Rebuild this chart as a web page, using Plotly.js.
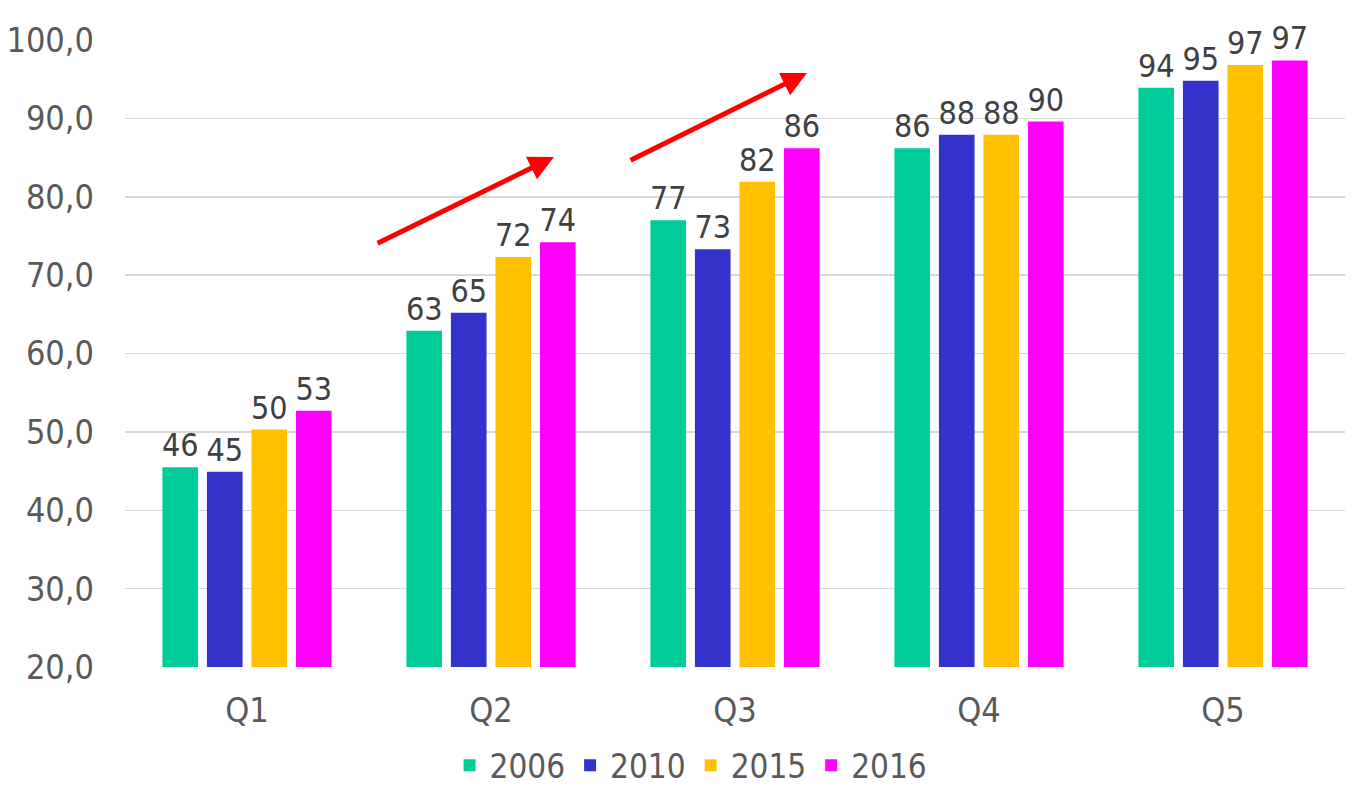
<!DOCTYPE html>
<html>
<head>
<meta charset="utf-8">
<script src="https://cdn.plot.ly/plotly-3.0.1.min.js"></script>
<style>
  html, body { margin: 0; padding: 0; background: #fff; }
  #chart { width: 1355px; height: 789px; }
</style>
</head>
<body>
<div id="chart"></div>
<script>
const quintiles = ['Q1', 'Q2', 'Q3', 'Q4', 'Q5'];
const years = ['2006', '2010', '2015', '2016'];
const v2006 = [45.5, 62.9, 77.0, 86.2, 93.9];
const v2010 = [44.9, 65.2, 73.3, 87.9, 94.8];
const v2015 = [50.3, 72.3, 81.9, 87.9, 96.8];
const v2016 = [52.7, 74.2, 86.2, 89.6, 97.4];
const colors = ['#00CC99', '#3333CC', '#FFC000', '#FF00FF'];

const series = [v2006, v2010, v2015, v2016];
const narrow = 'DejaVu Sans Condensed, Liberation Sans Narrow, sans-serif';

const traces = series.map((vals, k) => ({
    type: 'bar',
    name: years[k],
    x: quintiles,
    y: vals,
    marker: { color: colors[k] },
    texttemplate: '%{y:.0f}',
    textposition: 'outside',
    constraintext: 'none',
    cliponaxis: false,
    textfont: { family: narrow, size: 32, color: '#404040' },
    hoverinfo: 'x+y+name'
}));

// red trend arrows (decoration)
const arrow = (x0, y0, x1, y1) => ({
    x: x1, y: y1, ax: x0, ay: y0,
    xref: 'x', yref: 'y', axref: 'x', ayref: 'y',
    showarrow: true, arrowhead: 2, arrowsize: 1.0, arrowwidth: 5,
    arrowcolor: '#FF0000', text: ''
});

const layout = {
    width: 1355,
    height: 789,
    margin: { l: 125, r: 10, t: 40, b: 122 },
    paper_bgcolor: '#fff',
    plot_bgcolor: '#fff',
    separators: ', ',
    barmode: 'group',
    bargap: 0.27,
    bargroupgap: 0.2,
    font: { family: narrow, color: '#595959', size: 34 },
    xaxis: {
        type: 'category',
        showgrid: false,
        zeroline: false,
        showline: false,
        ticks: '',
        ticklabelstandoff: 20,
        tickfont: { size: 34, color: '#595959' }
    },
    yaxis: {
        range: [20, 100],
        dtick: 10,
        tickformat: '.1f',
        showgrid: true,
        gridcolor: '#D9D9D9',
        gridwidth: 1.5,
        zeroline: false,
        showline: false,
        ticks: '',
        ticklabelstandoff: 30,
        tickfont: { size: 34, color: '#595959' }
    },
    showlegend: true,
    legend: {
        orientation: 'h',
        x: 0.51, xanchor: 'center', xref: 'container',
        y: 0.03, yanchor: 'middle', yref: 'container',
        font: { size: 33, color: '#595959' },
        itemwidth: 30,
        traceorder: 'normal'
    },
    annotations: [
        arrow(0.529, 73.97, 1.258, 85.07),
        arrow(1.566, 84.56, 2.295, 95.79)
    ]
};

Plotly.newPlot('chart', traces, layout, { displayModeBar: false, staticPlot: true });
</script>
</body>
</html>
